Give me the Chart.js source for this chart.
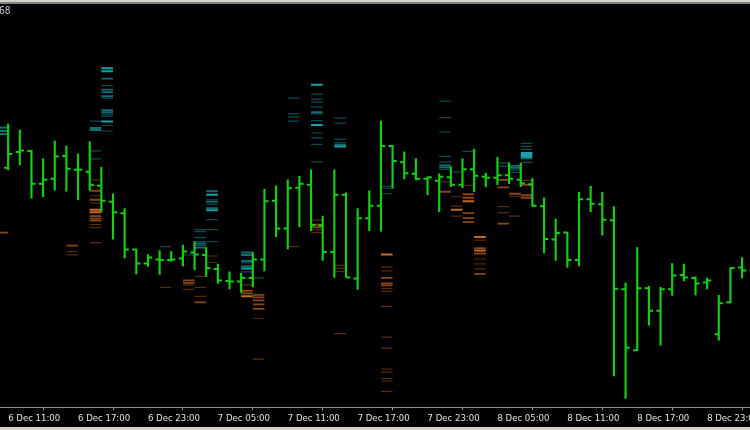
<!DOCTYPE html>
<html><head><meta charset="utf-8">
<script src="https://cdn.jsdelivr.net/npm/chart.js@4.4.1/dist/chart.umd.min.js"></script>
<style>
html,body{margin:0;padding:0;background:#000;overflow:hidden;}
#wrap{position:relative;width:750px;height:430px;background:#000;}
canvas{display:block;}
.strip{position:absolute;left:0;width:750px;}
#info{position:absolute;left:-1px;top:5px;font:10px "DejaVu Sans Condensed","Liberation Sans",sans-serif;color:#c8c8c8;}
</style></head>
<body>
<div id="wrap">
<canvas id="c" width="750" height="430"></canvas>
<div class="strip" style="top:0;height:2px;background:#d4d0c8"></div>
<div class="strip" style="top:2px;height:2px;background:#808080"></div>
<div class="strip" style="top:427px;height:3px;background:#d4d0c8"></div>
<div id="info">68</div>
</div>
<script>
// Hourly OHLC bars, bar 0 = 6 Dec 11:00
const opens  = [1.08481,1.08513,1.08515,1.08449,1.08459,1.08505,1.08477,1.08473,1.08445,1.08413,1.08390,1.08317,1.08289,1.08297,1.08296,1.08299,1.08311,1.08306,1.08278,1.08254,1.08253,1.08260,1.08297,1.08415,1.08359,1.08441,1.08447,1.08365,1.08312,1.08427,1.08259,1.08380,1.08405,1.08525,1.08492,1.08469,1.08459,1.08455,1.08462,1.08447,1.08478,1.08463,1.08461,1.08466,1.08457,1.08448,1.08404,1.08337,1.08351,1.08296,1.08418,1.08408,1.08376,1.08237,1.08115,1.08239,1.08194,1.08237,1.08266,1.08260,1.08251,1.08147,1.08211,1.08281,1.08275];
const highs  = [1.08569,1.08557,1.08516,1.08499,1.08535,1.08525,1.08509,1.08534,1.08482,1.08429,1.08399,1.08318,1.08307,1.08315,1.08313,1.08326,1.08333,1.08321,1.08288,1.08272,1.08269,1.08311,1.08438,1.08445,1.08457,1.08464,1.08477,1.08384,1.08477,1.08431,1.08399,1.08435,1.08575,1.08526,1.08513,1.08499,1.08463,1.08469,1.08483,1.08499,1.08518,1.08470,1.08502,1.08491,1.08490,1.08460,1.08421,1.08378,1.08352,1.08432,1.08444,1.08432,1.08403,1.08250,1.08321,1.08243,1.08241,1.08289,1.08288,1.08262,1.08260,1.08225,1.08281,1.08301,1.08290];
const lows   = [1.08477,1.08487,1.08420,1.08423,1.08436,1.08434,1.08417,1.08436,1.08393,1.08338,1.08300,1.08268,1.08283,1.08267,1.08293,1.08284,1.08276,1.08263,1.08249,1.08238,1.08231,1.08242,1.08274,1.08343,1.08318,1.08363,1.08355,1.08295,1.08261,1.08261,1.08237,1.08355,1.08354,1.08440,1.08459,1.08457,1.08427,1.08393,1.08443,1.08441,1.08433,1.08443,1.08447,1.08449,1.08443,1.08403,1.08310,1.08295,1.08281,1.08284,1.08393,1.08346,1.08063,1.08018,1.08114,1.08165,1.08125,1.08225,1.08254,1.08226,1.08238,1.08135,1.08210,1.08260,1.08262];
const closes = [1.08509,1.08516,1.08449,1.08457,1.08504,1.08479,1.08477,1.08447,1.08415,1.08392,1.08317,1.08289,1.08301,1.08296,1.08297,1.08313,1.08307,1.08280,1.08255,1.08253,1.08260,1.08297,1.08414,1.08359,1.08440,1.08449,1.08366,1.08312,1.08427,1.08261,1.08380,1.08405,1.08525,1.08495,1.08470,1.08459,1.08462,1.08463,1.08447,1.08478,1.08465,1.08461,1.08466,1.08459,1.08450,1.08405,1.08338,1.08350,1.08296,1.08418,1.08409,1.08377,1.08238,1.08120,1.08239,1.08194,1.08237,1.08265,1.08261,1.08249,1.08255,1.08209,1.08280,1.08275,1.08280];

// Time axis labels, one every 6 bars
const tickIndices = [0,6,12,18,24,30,36,42,48,54,60];
const timeLabels = ["6 Dec 11:00","6 Dec 17:00","6 Dec 23:00","7 Dec 05:00","7 Dec 11:00","7 Dec 17:00","7 Dec 23:00","8 Dec 05:00","8 Dec 11:00","8 Dec 17:00","8 Dec 23:00"];

// Order-book levels: [bar slot, price, volume level 1..3]
const cyanLevels = [
 [-0.5,1.08562,2],[-0.5,1.08555,2],[-0.5,1.08549,2],
 [7.5,1.08575,1],[7.5,1.08561,2],[7.5,1.08557,2],[7.5,1.08515,1],[7.5,1.08499,1],
 [8.5,1.08681,3],[8.5,1.08675,3],[8.5,1.08660,2],[8.5,1.08646,1],[8.5,1.08638,2],[8.5,1.08633,2],[8.5,1.08625,2],[8.5,1.08621,1],[8.5,1.08597,2],[8.5,1.08593,2],[8.5,1.08589,1],[8.5,1.08585,1],[8.5,1.08574,3],[8.5,1.08566,1],[8.5,1.08555,1],
 [13.5,1.08323,1],
 [15.5,1.08306,1],
 [16.5,1.08357,1],[16.5,1.08353,1],[16.5,1.08341,1],[16.5,1.08333,1],[16.5,1.08329,2],[16.5,1.08325,1],[16.5,1.08321,2],
 [17.5,1.08434,2],[17.5,1.08427,3],[17.5,1.08417,1],[17.5,1.08413,2],[17.5,1.08408,1],[17.5,1.08400,2],[17.5,1.08396,3],[17.5,1.08377,1],[17.5,1.08357,1],[17.5,1.08333,1],
 [20.5,1.08311,2],[20.5,1.08306,2],[20.5,1.08294,2],[20.5,1.08290,1],[20.5,1.08283,2],[20.5,1.08279,3],[20.5,1.08272,1],
 [21.5,1.08260,1],
 [24.5,1.08621,1],[24.5,1.08590,1],[24.5,1.08583,1],[24.5,1.08575,1],
 [26.5,1.08648,3],[26.5,1.08629,1],[26.5,1.08619,1],[26.5,1.08613,1],[26.5,1.08603,1],[26.5,1.08593,2],[26.5,1.08590,1],[26.5,1.08576,1],[26.5,1.08567,3],[26.5,1.08551,1],[26.5,1.08541,1],[26.5,1.08528,1],[26.5,1.08493,1],
 [28.5,1.08581,1],[28.5,1.08571,1],[28.5,1.08538,1],[28.5,1.08531,1],[28.5,1.08527,2],[28.5,1.08524,3],
 [32.5,1.08444,1],[32.5,1.08440,1],[32.5,1.08429,1],
 [37.5,1.08615,1],[37.5,1.08582,1],[37.5,1.08553,1],[37.5,1.08504,1],[37.5,1.08493,1],[37.5,1.08486,2],[37.5,1.08482,2],[37.5,1.08478,1],
 [38.5,1.08473,1],
 [39.5,1.08514,1],
 [42.5,1.08491,1],[42.5,1.08484,1],
 [43.5,1.08485,2],[43.5,1.08481,2],[43.5,1.08477,1],[43.5,1.08472,1],
 [44.5,1.08530,1],[44.5,1.08524,1],[44.5,1.08518,1],[44.5,1.08511,3],[44.5,1.08507,3],[44.5,1.08503,3],[44.5,1.08500,2],[44.5,1.08492,1]
];
const orangeLevels = [
 [-0.5,1.08351,2],
 [5.5,1.08325,2],[5.5,1.08313,1],[5.5,1.08306,1],
 [7.5,1.08457,1],[7.5,1.08446,1],[7.5,1.08435,2],[7.5,1.08425,1],[7.5,1.08417,2],[7.5,1.08410,1],[7.5,1.08397,3],[7.5,1.08392,3],[7.5,1.08384,2],[7.5,1.08379,2],[7.5,1.08375,2],[7.5,1.08367,1],[7.5,1.08361,1],[7.5,1.08331,1],
 [13.5,1.08241,1],
 [15.5,1.08255,2],[15.5,1.08250,2],[15.5,1.08246,1],[15.5,1.08237,1],
 [16.5,1.08263,1],[16.5,1.08241,1],[16.5,1.08223,1],[16.5,1.08211,2],
 [17.5,1.08304,1],[17.5,1.08291,1],
 [20.5,1.08246,1],[20.5,1.08234,2],[20.5,1.08229,2],[20.5,1.08223,3],
 [21.5,1.08226,2],[21.5,1.08221,2],[21.5,1.08215,2],[21.5,1.08207,2],[21.5,1.08198,2],[21.5,1.08179,1],[21.5,1.08097,1],
 [24.5,1.08323,1],
 [26.5,1.08376,1],[26.5,1.08367,2],[26.5,1.08362,2],[26.5,1.08357,1],[26.5,1.08351,1],
 [28.5,1.08285,1],[28.5,1.08279,1],[28.5,1.08273,1],[28.5,1.08148,1],
 [32.5,1.08307,3],[32.5,1.08282,1],[32.5,1.08274,1],[32.5,1.08260,2],[32.5,1.08249,2],[32.5,1.08245,2],[32.5,1.08239,1],[32.5,1.08233,1],[32.5,1.08203,1],[32.5,1.08141,1],[32.5,1.08119,1],[32.5,1.08077,1],[32.5,1.08071,1],[32.5,1.08058,1],[32.5,1.08053,1],[32.5,1.08032,1],
 [37.5,1.08453,1],[37.5,1.08433,2],
 [38.5,1.08423,1],[38.5,1.08404,1],[38.5,1.08397,3],[38.5,1.08384,1],
 [39.5,1.08446,1],[39.5,1.08428,2],[39.5,1.08421,2],[39.5,1.08414,3],[39.5,1.08390,2],[39.5,1.08380,2],[39.5,1.08372,2],
 [40.5,1.08342,3],[40.5,1.08336,1],[40.5,1.08320,2],[40.5,1.08315,3],[40.5,1.08309,2],[40.5,1.08298,1],[40.5,1.08288,1],[40.5,1.08278,1],[40.5,1.08268,2],
 [42.5,1.08457,2],[42.5,1.08442,2],[42.5,1.08403,1],[42.5,1.08391,1],[42.5,1.08369,2],
 [43.5,1.08429,2],[43.5,1.08424,1],[43.5,1.08384,1],
 [44.5,1.08456,1],[44.5,1.08447,2],[44.5,1.08426,2],[44.5,1.08421,2]
];

const GREEN = '#14d014';
const CYAN = {1:'rgb(10,76,80)', 2:'rgb(14,110,116)', 3:'rgb(26,160,168)'};
const ORANGE = {1:'rgb(86,43,14)', 2:'rgb(138,70,24)', 3:'rgb(198,104,42)'};
const LW = {1:1.2, 2:1.8, 3:2};

Chart.defaults.font.family = '"DejaVu Sans Condensed","Liberation Sans",Arial,sans-serif';

function levelDataset(levels, palette) {
  return {
    type: 'scatter',
    data: levels.map(l => ({x: l[0], y: l[1], v: l[2]})),
    pointStyle: 'line',
    pointRadius: 5.8,
    pointHoverRadius: 5.8,
    pointBorderWidth: c => LW[c.raw ? c.raw.v : 1],
    pointBorderColor: c => palette[c.raw ? c.raw.v : 1],
    pointBackgroundColor: c => palette[c.raw ? c.raw.v : 1],
    showLine: false,
    order: 2
  };
}

function tickDataset(values, shift) {
  return {
    type: 'scatter',
    data: values.map((v, i) => ({x: i + shift, y: v})),
    pointStyle: 'line', pointRadius: 1.8, pointHoverRadius: 1.8,
    pointBorderWidth: 2, pointBorderColor: GREEN, pointBackgroundColor: GREEN,
    showLine: false, order: 0
  };
}

new Chart(document.getElementById('c'), {
  type: 'scatter',
  data: {
    datasets: [
      {
        type: 'bar',
        data: highs.map((h, i) => ({x: i, y: [lows[i], h]})),
        backgroundColor: GREEN,
        borderWidth: 0,
        barThickness: 1.5,
        order: 0
      },
      tickDataset(opens, -0.2),
      tickDataset(closes, 0.2),
      levelDataset(cyanLevels, CYAN),
      levelDataset(orangeLevels, ORANGE)
    ]
  },
  options: {
    responsive: false,
    animation: false,
    events: [],
    layout: {autoPadding: false, padding: {top: 5, bottom: 4.2, left: 0, right: 0}},
    plugins: {legend: {display: false}, tooltip: {enabled: false}},
    scales: {
      x: {
        type: 'linear',
        min: -0.7, max: 63.68,
        offset: false,
        grid: {display: true, drawOnChartArea: false, drawTicks: true, tickLength: 3, color: '#909090'},
        border: {display: true, color: '#909090', width: 1},
        afterBuildTicks: s => { s.ticks = tickIndices.map(v => ({value: v})); },
        afterFit: s => { s.paddingLeft = 0; s.paddingRight = 0; },
        ticks: {
          autoSkip: false, maxRotation: 0, minRotation: 0,
          align: 'start', padding: 2,
          color: '#e4e4e4',
          font: {size: 9.5},
          callback: v => timeLabels[tickIndices.indexOf(v)]
        }
      },
      y: {display: false, min: 1.08, max: 1.08808}
    }
  }
});
</script>
</body></html>
